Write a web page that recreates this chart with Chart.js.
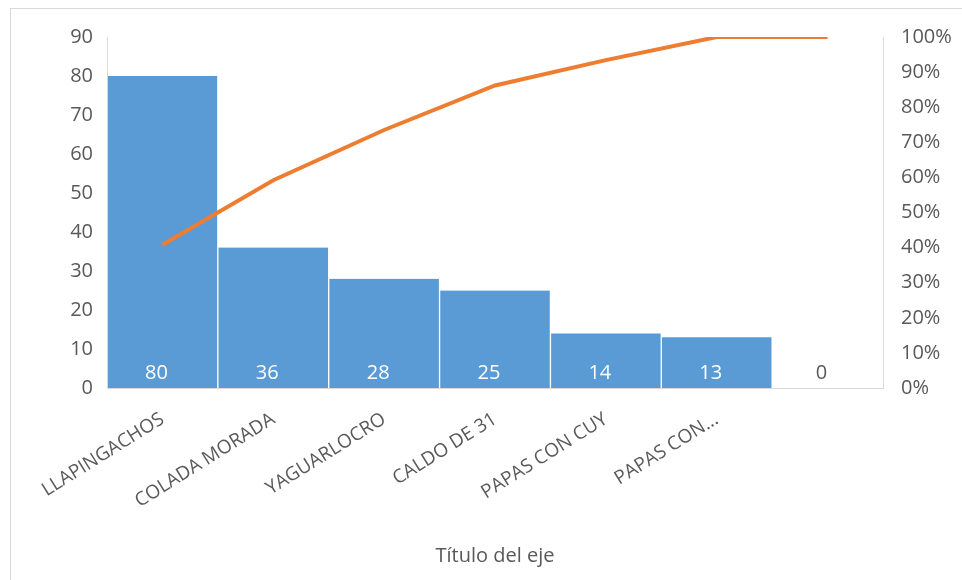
<!DOCTYPE html>
<html>
<head>
<meta charset="utf-8">
<script src="https://cdn.jsdelivr.net/npm/chart.js@4/dist/chart.umd.min.js"></script>
<style>
  html, body { margin: 0; padding: 0; background: #fff; }
  #wrap { position: absolute; left: 0; top: 0; width: 962px; height: 580px; }
  #frame { position: absolute; left: 10px; top: 8px; width: 960px; height: 580px; border: 1px solid #d9d9d9; box-sizing: border-box; }
</style>
</head>
<body>
<div id="frame"></div>
<div id="wrap"><canvas id="myChart"></canvas></div>
<script>
  const platos = ["LLAPINGACHOS", "COLADA MORADA", "YAGUARLOCRO", "CALDO DE 31", "PAPAS CON CUY", "PAPAS CON...", ""];
  const cantidades = [80, 36, 28, 25, 14, 13, 0];
  const acumulado = [40.8, 59.2, 73.5, 86.2, 93.4, 100, 100];

  const gris = '#595959';
  const fuente = "'Open Sans', 'Noto Sans', sans-serif";

  // etiquetas dentro de las barras
  const etiquetas = {
    id: 'etiquetas',
    afterDatasetsDraw(chart) {
      const ctx = chart.ctx;
      const meta = chart.getDatasetMeta(1);
      ctx.save();
      ctx.font = '20px ' + fuente;
      ctx.textAlign = 'center';
      ctx.textBaseline = 'middle';
      meta.data.forEach((bar, i) => {
        ctx.fillStyle = cantidades[i] > 0 ? '#ffffff' : gris;
        ctx.fillText(String(cantidades[i]), bar.x - 6, chart.chartArea.bottom - 15);
      });
      ctx.restore();
    }
  };

  const data = {
    labels: platos,
    datasets: [{
      type: 'line',
      label: 'Acumulado',
      data: acumulado,
      yAxisID: 'y2',
      borderColor: '#ED7D31',
      borderWidth: 4,
      pointRadius: 0,
      tension: 0,
      order: 0
    }, {
      type: 'bar',
      label: 'Cantidad',
      data: cantidades,
      yAxisID: 'y',
      backgroundColor: '#5B9BD5',
      borderColor: '#ffffff',
      borderWidth: { left: 1, right: 1, top: 0, bottom: 0 },
      categoryPercentage: 1.0,
      barPercentage: 1.0,
      order: 1
    }]
  };

  const config = {
    type: 'bar',
    data,
    plugins: [etiquetas],
    options: {
      responsive: true,
      maintainAspectRatio: false,
      animation: false,
      layout: { padding: { top: 37, right: 0, bottom: 0, left: 0 } },
      plugins: {
        legend: { display: false },
        tooltip: { enabled: false }
      },
      scales: {
        x: {
          grid: { display: false, drawTicks: false },
          border: { display: true, color: '#d9d9d9' },
          ticks: {
            color: gris,
            font: { size: 19, family: fuente },
            minRotation: 32,
            maxRotation: 32,
            autoSkip: false,
            padding: 20
          },
          title: {
            display: true,
            text: 'Título del eje',
            color: gris,
            font: { size: 20, family: fuente },
            padding: { top: 4, bottom: 12 }
          },
          afterFit(scale) { scale.height = 192; }
        },
        y: {
          position: 'left',
          min: 0,
          max: 90,
          grid: { display: false, drawTicks: false },
          border: { display: true, color: '#d9d9d9', dash: [2, 2] },
          ticks: {
            stepSize: 10,
            color: gris,
            font: { size: 20, family: fuente },
            padding: 14
          },
          afterFit(scale) { scale.width = 107; }
        },
        y2: {
          position: 'right',
          min: 0,
          max: 100,
          grid: { display: false, drawTicks: false },
          border: { display: true, color: '#d9d9d9', dash: [2, 2] },
          ticks: {
            stepSize: 10,
            color: gris,
            font: { size: 20, family: fuente },
            padding: 18,
            callback: v => v + '%'
          },
          afterFit(scale) { scale.width = 79; }
        }
      }
    }
  };

  const myChart = new Chart(document.getElementById('myChart'), config);
</script>
</body>
</html>
